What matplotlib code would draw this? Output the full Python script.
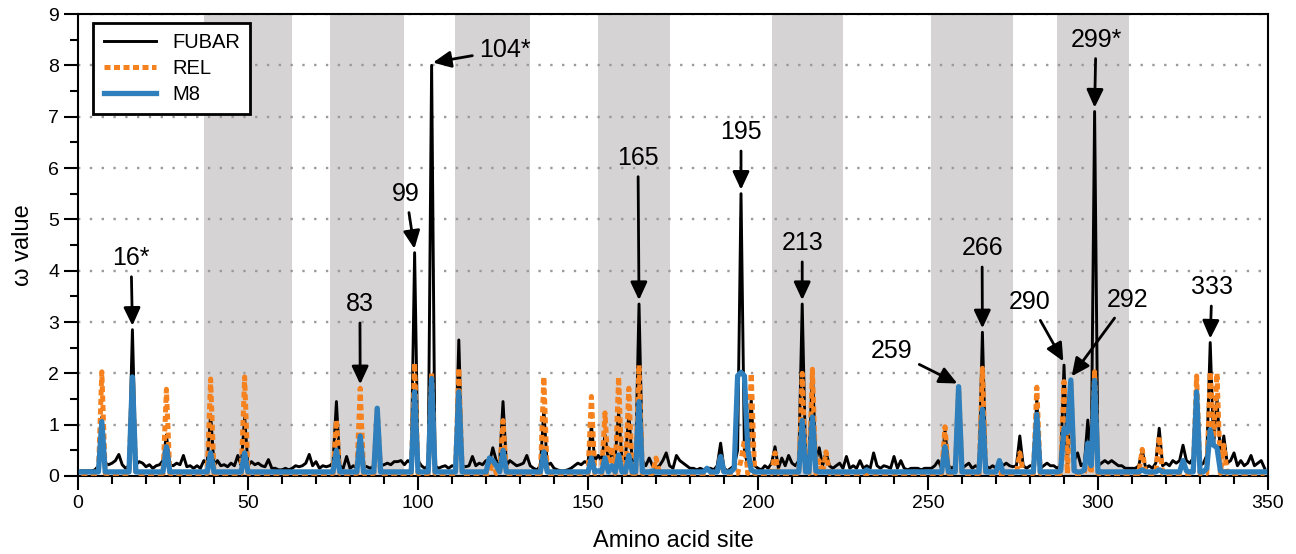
"""Site-wise omega estimates (FUBAR / REL / M8) along the amino acid sequence"""

import numpy as np
import matplotlib
matplotlib.use('Agg')
import matplotlib.pyplot as plt
from matplotlib.ticker import MultipleLocator

plt.rcParams['font.family'] = ['Liberation Sans', 'DejaVu Sans']

# Amino acid sites 1..349
sites = np.arange(1, 350)

# FUBAR omega per site
fubar = [
    0.10, 0.10, 0.10, 0.10, 0.12, 0.20, 1.15, 0.25, 0.22, 0.25,
    0.30, 0.42, 0.22, 0.15, 0.20, 2.85, 0.22, 0.28, 0.25, 0.18,
    0.22, 0.15, 0.20, 0.22, 0.30, 0.80, 0.22, 0.20, 0.25, 0.22,
    0.40, 0.18, 0.20, 0.15, 0.20, 0.15, 0.30, 0.25, 1.20, 0.20,
    0.30, 0.20, 0.22, 0.18, 0.25, 0.20, 0.40, 0.20, 1.15, 0.20,
    0.28, 0.22, 0.25, 0.20, 0.18, 0.32, 0.15, 0.15, 0.12, 0.12,
    0.15, 0.12, 0.15, 0.20, 0.18, 0.20, 0.25, 0.42, 0.20, 0.28,
    0.15, 0.20, 0.18, 0.20, 0.25, 1.45, 0.20, 0.15, 0.38, 0.15,
    0.20, 0.15, 0.80, 0.20, 0.18, 0.15, 0.20, 1.32, 0.20, 0.22,
    0.25, 0.22, 0.28, 0.28, 0.30, 0.22, 0.30, 0.25, 4.35, 0.30,
    0.20, 0.15, 0.20, 8.00, 0.20, 0.15, 0.18, 0.20, 0.15, 0.20,
    0.18, 2.65, 0.20, 0.18, 0.20, 0.38, 0.20, 0.25, 0.22, 0.30,
    0.25, 0.55, 0.30, 0.25, 1.45, 0.20, 0.30, 0.25, 0.20, 0.22,
    0.25, 0.40, 0.20, 0.15, 0.12, 0.20, 1.30, 0.20, 0.25, 0.15,
    0.12, 0.10, 0.10, 0.12, 0.15, 0.20, 0.25, 0.22, 0.28, 0.25,
    1.00, 0.30, 0.40, 0.30, 0.80, 0.30, 0.45, 0.35, 1.25, 0.30,
    0.35, 1.20, 0.30, 0.25, 3.35, 0.30, 0.20, 0.35, 0.20, 0.15,
    0.20, 0.30, 0.45, 0.20, 0.15, 0.40, 0.30, 0.25, 0.20, 0.15,
    0.15, 0.12, 0.15, 0.12, 0.15, 0.15, 0.12, 0.20, 0.64, 0.15,
    0.10, 0.15, 0.20, 0.50, 5.50, 0.50, 0.20, 1.50, 0.20, 0.15,
    0.12, 0.20, 0.15, 0.25, 0.57, 0.15, 0.35, 0.20, 0.40, 0.25,
    0.20, 0.30, 3.35, 0.30, 0.40, 2.05, 0.30, 0.55, 0.20, 0.47,
    0.20, 0.15, 0.20, 0.25, 0.15, 0.38, 0.15, 0.20, 0.15, 0.30,
    0.15, 0.20, 0.15, 0.45, 0.20, 0.15, 0.20, 0.18, 0.15, 0.38,
    0.15, 0.30, 0.15, 0.12, 0.15, 0.15, 0.15, 0.12, 0.15, 0.15,
    0.15, 0.20, 0.30, 0.15, 0.90, 0.20, 0.15, 0.20, 1.74, 0.15,
    0.20, 0.25, 0.15, 0.20, 0.15, 2.80, 0.20, 0.15, 0.20, 0.15,
    0.30, 0.20, 0.25, 0.20, 0.18, 0.20, 0.78, 0.20, 0.15, 0.20,
    0.20, 1.50, 0.15, 0.20, 0.25, 0.20, 0.20, 0.15, 0.20, 2.16,
    0.25, 1.87, 0.30, 0.45, 0.20, 0.25, 1.09, 0.30, 7.10, 0.20,
    0.25, 0.30, 0.25, 0.30, 0.25, 0.20, 0.20, 0.15, 0.15, 0.15,
    0.15, 0.20, 0.52, 0.15, 0.20, 0.15, 0.25, 0.93, 0.20, 0.25,
    0.20, 0.30, 0.25, 0.30, 0.60, 0.30, 0.25, 0.35, 1.70, 0.20,
    0.25, 0.40, 2.60, 0.60, 1.50, 0.40, 0.78, 0.25, 0.30, 0.45,
    0.20, 0.30, 0.20, 0.25, 0.40, 0.20, 0.25, 0.30, 0.15,
]

# REL omega per site
rel = [
    0.05, 0.05, 0.05, 0.05, 0.05, 0.05, 2.03, 0.05, 0.05, 0.05,
    0.05, 0.05, 0.05, 0.05, 0.05, 1.90, 0.05, 0.05, 0.05, 0.05,
    0.05, 0.05, 0.05, 0.05, 0.05, 1.69, 0.05, 0.05, 0.05, 0.05,
    0.05, 0.05, 0.05, 0.05, 0.05, 0.05, 0.05, 0.05, 1.89, 0.05,
    0.05, 0.05, 0.05, 0.05, 0.05, 0.05, 0.05, 0.05, 1.93, 0.05,
    0.05, 0.05, 0.05, 0.05, 0.05, 0.05, 0.05, 0.05, 0.05, 0.05,
    0.05, 0.05, 0.05, 0.05, 0.05, 0.05, 0.05, 0.05, 0.05, 0.05,
    0.05, 0.05, 0.05, 0.05, 0.05, 1.09, 0.05, 0.05, 0.05, 0.05,
    0.05, 0.05, 1.71, 0.05, 0.05, 0.05, 0.05, 1.30, 0.05, 0.05,
    0.05, 0.05, 0.05, 0.05, 0.05, 0.05, 0.05, 0.05, 2.20, 0.05,
    0.05, 0.05, 0.05, 2.00, 0.05, 0.05, 0.05, 0.05, 0.05, 0.05,
    0.05, 2.10, 0.05, 0.05, 0.05, 0.05, 0.05, 0.05, 0.05, 0.05,
    0.05, 0.30, 0.05, 0.05, 1.08, 0.05, 0.05, 0.05, 0.05, 0.05,
    0.05, 0.05, 0.05, 0.05, 0.05, 0.05, 1.93, 0.05, 0.05, 0.05,
    0.05, 0.05, 0.05, 0.05, 0.05, 0.05, 0.05, 0.05, 0.05, 0.05,
    1.55, 0.05, 0.05, 0.05, 1.23, 0.05, 0.57, 0.05, 1.93, 0.05,
    0.05, 1.71, 0.05, 0.05, 2.16, 0.05, 0.05, 0.05, 0.05, 0.35,
    0.05, 0.05, 0.05, 0.05, 0.05, 0.05, 0.05, 0.05, 0.05, 0.05,
    0.05, 0.05, 0.05, 0.05, 0.05, 0.05, 0.05, 0.05, 0.40, 0.05,
    0.05, 0.05, 0.05, 0.05, 0.30, 0.70, 0.05, 2.00, 0.05, 0.05,
    0.05, 0.05, 0.05, 0.05, 0.45, 0.05, 0.05, 0.05, 0.05, 0.05,
    0.05, 0.05, 2.00, 0.05, 0.05, 2.08, 0.05, 0.30, 0.05, 0.47,
    0.05, 0.05, 0.05, 0.05, 0.05, 0.05, 0.05, 0.05, 0.05, 0.05,
    0.05, 0.05, 0.05, 0.05, 0.05, 0.05, 0.05, 0.05, 0.05, 0.05,
    0.05, 0.05, 0.05, 0.05, 0.05, 0.05, 0.05, 0.05, 0.05, 0.05,
    0.05, 0.05, 0.05, 0.05, 0.96, 0.05, 0.05, 0.05, 1.70, 0.05,
    0.05, 0.05, 0.05, 0.05, 0.05, 2.10, 0.05, 0.05, 0.05, 0.05,
    0.05, 0.05, 0.05, 0.05, 0.05, 0.05, 0.45, 0.05, 0.05, 0.05,
    0.05, 1.73, 0.05, 0.05, 0.05, 0.05, 0.05, 0.05, 0.05, 1.84,
    0.05, 1.80, 0.05, 0.05, 0.05, 0.05, 0.50, 0.05, 2.03, 0.05,
    0.05, 0.05, 0.05, 0.05, 0.05, 0.05, 0.05, 0.05, 0.05, 0.05,
    0.05, 0.05, 0.52, 0.05, 0.05, 0.05, 0.05, 0.77, 0.05, 0.05,
    0.05, 0.05, 0.05, 0.05, 0.05, 0.05, 0.05, 0.05, 1.95, 0.05,
    0.05, 0.05, 2.03, 0.80, 2.00, 0.05, 0.60, 0.05, 0.05, 0.05,
    0.05, 0.05, 0.05, 0.05, 0.05, 0.05, 0.05, 0.05, 0.05,
]

# M8 omega per site
m8 = [
    0.08, 0.08, 0.08, 0.08, 0.08, 0.08, 1.06, 0.08, 0.08, 0.08,
    0.08, 0.08, 0.08, 0.08, 0.08, 1.93, 0.08, 0.08, 0.08, 0.08,
    0.08, 0.08, 0.08, 0.08, 0.08, 0.57, 0.08, 0.08, 0.08, 0.08,
    0.08, 0.08, 0.08, 0.08, 0.08, 0.08, 0.08, 0.08, 0.45, 0.08,
    0.08, 0.08, 0.08, 0.08, 0.08, 0.08, 0.08, 0.08, 0.45, 0.08,
    0.08, 0.08, 0.08, 0.08, 0.08, 0.08, 0.08, 0.08, 0.08, 0.08,
    0.08, 0.08, 0.08, 0.08, 0.08, 0.08, 0.08, 0.08, 0.08, 0.08,
    0.08, 0.08, 0.08, 0.08, 0.08, 0.50, 0.08, 0.08, 0.08, 0.08,
    0.08, 0.08, 0.78, 0.08, 0.08, 0.08, 0.08, 1.32, 0.08, 0.08,
    0.08, 0.08, 0.08, 0.08, 0.08, 0.08, 0.08, 0.08, 1.64, 0.08,
    0.08, 0.08, 0.08, 1.90, 0.08, 0.08, 0.08, 0.08, 0.08, 0.08,
    0.08, 1.64, 0.08, 0.08, 0.08, 0.08, 0.08, 0.08, 0.08, 0.08,
    0.35, 0.30, 0.20, 0.08, 0.50, 0.08, 0.08, 0.08, 0.08, 0.08,
    0.08, 0.08, 0.08, 0.08, 0.08, 0.08, 0.47, 0.08, 0.08, 0.08,
    0.08, 0.08, 0.08, 0.08, 0.08, 0.08, 0.08, 0.08, 0.08, 0.08,
    0.35, 0.08, 0.10, 0.08, 0.35, 0.08, 0.20, 0.08, 0.41, 0.08,
    0.08, 0.40, 0.08, 0.08, 1.45, 0.08, 0.08, 0.08, 0.10, 0.08,
    0.08, 0.08, 0.08, 0.08, 0.08, 0.08, 0.08, 0.08, 0.08, 0.08,
    0.08, 0.08, 0.08, 0.08, 0.15, 0.08, 0.08, 0.08, 0.38, 0.08,
    0.08, 0.08, 0.15, 1.95, 2.02, 1.95, 0.50, 0.12, 0.08, 0.08,
    0.08, 0.08, 0.08, 0.08, 0.08, 0.08, 0.08, 0.08, 0.08, 0.08,
    0.08, 0.08, 1.08, 0.08, 0.08, 1.15, 0.10, 0.08, 0.08, 0.08,
    0.08, 0.08, 0.08, 0.08, 0.08, 0.08, 0.08, 0.08, 0.08, 0.08,
    0.08, 0.12, 0.08, 0.08, 0.08, 0.08, 0.08, 0.08, 0.08, 0.08,
    0.08, 0.08, 0.08, 0.08, 0.08, 0.08, 0.08, 0.08, 0.08, 0.08,
    0.08, 0.08, 0.08, 0.08, 0.57, 0.08, 0.08, 0.08, 1.74, 0.08,
    0.08, 0.08, 0.08, 0.08, 0.08, 1.30, 0.08, 0.08, 0.08, 0.08,
    0.30, 0.08, 0.08, 0.08, 0.08, 0.08, 0.08, 0.08, 0.08, 0.08,
    0.08, 1.20, 0.08, 0.08, 0.08, 0.08, 0.08, 0.08, 0.10, 0.93,
    0.85, 1.87, 0.10, 0.08, 0.08, 0.12, 0.64, 0.20, 1.86, 0.08,
    0.08, 0.08, 0.08, 0.08, 0.08, 0.08, 0.08, 0.08, 0.08, 0.08,
    0.08, 0.08, 0.12, 0.08, 0.08, 0.08, 0.08, 0.12, 0.08, 0.08,
    0.08, 0.08, 0.08, 0.08, 0.30, 0.10, 0.08, 0.08, 1.64, 0.08,
    0.08, 0.15, 0.90, 0.60, 0.55, 0.10, 0.08, 0.08, 0.08, 0.08,
    0.08, 0.08, 0.08, 0.08, 0.08, 0.08, 0.08, 0.08, 0.08,
]

# Shaded regions along the sequence (start, end site)
band_start = [37, 74, 111, 153, 204, 251, 288]
band_end = [63, 96, 133, 174, 225, 275, 309]

# Highlighted sites and their labels
marked_sites = [16, 83, 99, 104, 165, 195, 213, 259, 266, 290, 292, 299, 333]
marked_labels = ['16*', '83', '99', '104*', '165', '195', '213',
                 '259', '266', '290', '292', '299*', '333']

# where each label text sits (data coords)
label_pos = [(15.6, 4.25), (82.9, 3.35), (96.5, 5.5), (125.6, 8.3),
             (164.7, 6.2), (195.0, 6.7), (213.0, 4.54), (239.4, 2.44),
             (265.9, 4.44), (280.0, 3.39), (308.8, 3.43), (299.4, 8.5),
             (333.5, 3.68)]

BLACK = '#000000'
ORANGE = '#f5821f'
BLUE = '#2f7fbc'
BAND = '#d5d3d4'

fig = plt.figure(figsize=(12.96, 5.54), dpi=100)
ax = fig.add_axes([0.0602, 0.1408, 0.9182, 0.8339])

# background bands
for s, e in zip(band_start, band_end):
    ax.axvspan(s, e, color=BAND, lw=0, zorder=0)

ax.plot(sites, fubar, color=BLACK, lw=2.1, zorder=2, label='FUBAR')
ax.plot(sites, rel, color=ORANGE, lw=3.6, ls=(0, (1.2, 0.7)), zorder=3, label='REL')
ax.plot(sites, m8, color=BLUE, lw=3.8, zorder=4, label='M8')

# annotations
series = np.vstack([fubar, rel, m8])
for site, lab, (tx, ty) in zip(marked_sites, marked_labels, label_pos):
    peak = series[:, site - 1].max()
    ax.annotate(lab, xy=(site, peak + 0.05), xytext=(tx, ty),
                ha='center', va='center', fontsize=18, zorder=6,
                arrowprops=dict(arrowstyle='-|>,head_length=0.6,head_width=0.28',
                                color='k', lw=2, shrinkA=3, shrinkB=1))

ax.set_xlim(0, 350)
ax.set_ylim(0, 9)
ax.xaxis.set_major_locator(MultipleLocator(50))
ax.xaxis.set_minor_locator(MultipleLocator(10))
ax.yaxis.set_major_locator(MultipleLocator(1))
ax.yaxis.set_minor_locator(MultipleLocator(0.5))
ax.tick_params(which='major', direction='out', length=10, width=1.5, labelsize=14)
ax.tick_params(which='minor', direction='out', length=5.5, width=1.5)
for sp in ax.spines.values():
    sp.set_linewidth(1.5)

ax.set_axisbelow(True)
ax.grid(axis='y', which='major', color='#9a9a9a', lw=1.7, ls=(0, (1, 4)))

ax.set_xlabel('Amino acid site', fontsize=17, labelpad=13)
ax.set_ylabel('ω value', fontsize=17, labelpad=10)

leg = ax.legend(loc='upper left', bbox_to_anchor=(0.013, 0.981), borderaxespad=0,
                fontsize=14.5, fancybox=False, framealpha=1, edgecolor='k',
                handlelength=2.6, borderpad=0.5, labelspacing=0.35)
leg.get_frame().set_linewidth(2)
leg.set_zorder(10)

fig.savefig('out.png', dpi=100, facecolor='white')
plt.close(fig)
